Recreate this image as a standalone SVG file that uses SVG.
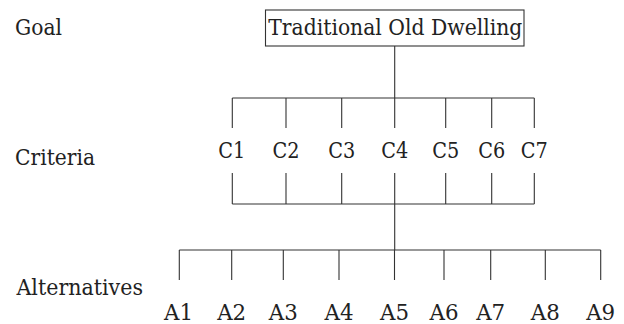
<svg xmlns="http://www.w3.org/2000/svg" width="624" height="324" viewBox="0 0 624 324">
<style>
text{font-family:'DejaVu Serif','Liberation Serif',serif;font-size:22px;fill:#222}
.c{text-anchor:middle}
.ln{stroke:#333;stroke-width:1.1;fill:none}
</style>
<rect width="624" height="324" fill="#fff"/>
<g id="levels">
<text x="15" y="35" textLength="47" lengthAdjust="spacingAndGlyphs">Goal</text>
<text x="15" y="165" textLength="80" lengthAdjust="spacingAndGlyphs">Criteria</text>
<text x="16.5" y="295" textLength="126.5" lengthAdjust="spacingAndGlyphs">Alternatives</text>
</g>
<g id="goal">
<rect class="ln" x="265.5" y="10" width="258.5" height="36"/>
<text x="268.3" y="35" textLength="254" lengthAdjust="spacingAndGlyphs">Traditional Old Dwelling</text>
</g>
<g id="connectors" class="ln">
<path d="M394.7 46V98M232.3 98H534.3M232.3 98V128M286 98V128M341.7 98V128M394.7 98V128M445.7 98V128M491.7 98V128M534.3 98V128"/>
<path d="M232.3 173V204M286 173V204M341.7 173V204M394.7 173V204M445.7 173V204M491.7 173V204M534.3 173V204M232.3 204H534.3M394.7 204V250"/>
<path d="M179.3 250H600.7M179.3 250V280M231.7 250V280M283.3 250V280M339 250V280M394.5 250V280M444 250V280M490.7 250V280M545.3 250V280M600.7 250V280"/>
</g>
<g id="C1"><text class="c" x="231.7" y="158.3" textLength="27" lengthAdjust="spacingAndGlyphs">C1</text></g>
<g id="C2"><text class="c" x="286" y="158.3" textLength="27" lengthAdjust="spacingAndGlyphs">C2</text></g>
<g id="C3"><text class="c" x="341.7" y="158.3" textLength="27" lengthAdjust="spacingAndGlyphs">C3</text></g>
<g id="C4"><text class="c" x="394.7" y="158.3" textLength="27" lengthAdjust="spacingAndGlyphs">C4</text></g>
<g id="C5"><text class="c" x="445.7" y="158.3" textLength="27" lengthAdjust="spacingAndGlyphs">C5</text></g>
<g id="C6"><text class="c" x="491.7" y="158.3" textLength="27" lengthAdjust="spacingAndGlyphs">C6</text></g>
<g id="C7"><text class="c" x="534.3" y="158.3" textLength="27" lengthAdjust="spacingAndGlyphs">C7</text></g>
<g id="A1"><text class="c" x="178.5" y="320" textLength="29" lengthAdjust="spacingAndGlyphs">A1</text></g>
<g id="A2"><text class="c" x="231.7" y="320" textLength="29" lengthAdjust="spacingAndGlyphs">A2</text></g>
<g id="A3"><text class="c" x="283.3" y="320" textLength="29" lengthAdjust="spacingAndGlyphs">A3</text></g>
<g id="A4"><text class="c" x="339" y="320" textLength="29" lengthAdjust="spacingAndGlyphs">A4</text></g>
<g id="A5"><text class="c" x="394.5" y="320" textLength="29" lengthAdjust="spacingAndGlyphs">A5</text></g>
<g id="A6"><text class="c" x="444" y="320" textLength="29" lengthAdjust="spacingAndGlyphs">A6</text></g>
<g id="A7"><text class="c" x="490.7" y="320" textLength="29" lengthAdjust="spacingAndGlyphs">A7</text></g>
<g id="A8"><text class="c" x="545.3" y="320" textLength="29" lengthAdjust="spacingAndGlyphs">A8</text></g>
<g id="A9"><text class="c" x="600.7" y="320" textLength="29" lengthAdjust="spacingAndGlyphs">A9</text></g>
</svg>
